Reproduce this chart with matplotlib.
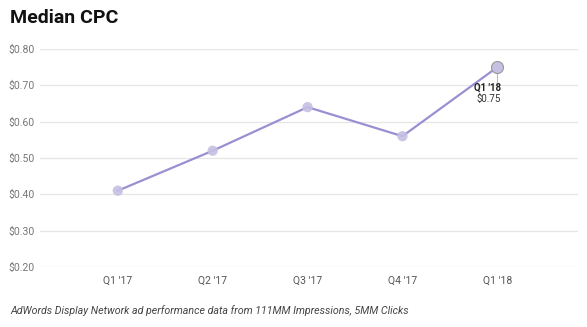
import matplotlib.pyplot as plt

quarters = ["Q1 '17", "Q2 '17", "Q3 '17", "Q4 '17", "Q1 '18"]
cpc = [0.41, 0.52, 0.64, 0.56, 0.75]
y_ticks = [0.20, 0.30, 0.40, 0.50, 0.60, 0.70, 0.80]

plt.rcParams['font.family'] = ['Roboto', 'DejaVu Sans']

fig = plt.figure(figsize=(5.87, 3.27), dpi=100)
ax = fig.add_axes([40 / 587, 1 - 267 / 327, 538 / 587, 218 / 327])

x = list(range(len(quarters)))
ax.plot(x, cpc, color='#9a8fd2', lw=1.6, zorder=3, clip_on=False)
ax.scatter(x[:-1], cpc[:-1], s=55, color='#c5c0e3', alpha=0.9, zorder=4,
           clip_on=False, edgecolors='none')
# highlighted last point with tooltip
ax.scatter([x[-1]], [cpc[-1]], s=75, color='#c5c0e3', edgecolors='#9a9a9a',
           linewidths=0.8, zorder=5, clip_on=False)
ax.plot([x[-1], x[-1]], [cpc[-1] - 0.012, cpc[-1] - 0.04], color='#bbbbbb',
        lw=0.8, zorder=2)
ax.text(x[-1] + 0.04, cpc[-1] - 0.042, quarters[-1], ha='right', va='top',
        fontsize=7, fontweight='bold', color='#222222')
ax.text(x[-1] + 0.04, cpc[-1] - 0.072, '$%.2f' % cpc[-1], ha='right', va='top',
        fontsize=7, color='#333333')

ax.set_xlim(-0.82, 4.85)
ax.set_ylim(0.2, 0.8)
ax.set_yticks(y_ticks)
ax.set_yticklabels(['$%.2f' % v for v in y_ticks])
ax.set_xticks(x)
ax.set_xticklabels(quarters)
ax.grid(axis='y', color='#e6e6e6', lw=0.9)
ax.set_axisbelow(True)
for s in ax.spines.values():
    s.set_visible(False)
ax.tick_params(axis='y', length=0, pad=4, labelsize=7.5, labelcolor='#777777')
ax.tick_params(axis='x', length=0, pad=6, labelsize=7.5, labelcolor='#555555')

fig.text(10 / 587, 1 - 18 / 327, 'Median CPC', fontsize=14, fontweight='bold',
         color='#111111', va='center', ha='left')
fig.text(10 / 587, 1 - 311 / 327,
         'AdWords Display Network ad performance data from 111MM Impressions, 5MM Clicks',
         fontsize=7.7, style='italic', color='#444444', va='center', ha='left')

fig.savefig('out.png', dpi=100, facecolor='white')
